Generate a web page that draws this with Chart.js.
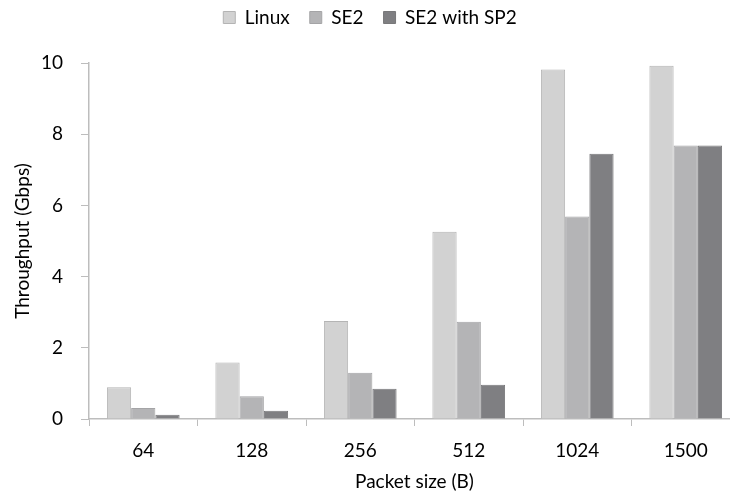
<!DOCTYPE html>
<html>
<head>
<meta charset="utf-8">
<script src="https://cdn.jsdelivr.net/npm/chart.js@4"></script>
<style>
  html, body { margin: 0; padding: 0; background: #fff; overflow: hidden; }
  #wrap { width: 750px; height: 493px; }
</style>
</head>
<body>
<div id="wrap"><canvas id="myChart"></canvas></div>
<script>
const packetSizes = ['64', '128', '256', '512', '1024', '1500'];
const linux = [0.89, 1.59, 2.75, 5.26, 9.82, 9.92];
const se2 = [0.31, 0.64, 1.30, 2.73, 5.69, 7.68];
const se2sp2 = [0.12, 0.23, 0.85, 0.96, 7.45, 7.68];
const yTicks = [0, 2, 4, 6, 8, 10];

const font = "Lato, 'Open Sans', sans-serif";
const textColor = '#000';

const barData = {
  labels: packetSizes,
  datasets: [
    {
      label: 'Linux',
      data: linux,
      backgroundColor: '#d2d2d2',
      borderColor: '#b4b4b4',
      borderWidth: 1
    },
    {
      label: 'SE2',
      data: se2,
      backgroundColor: '#b4b4b6',
      borderColor: '#a4a4a6',
      borderWidth: 1
    },
    {
      label: 'SE2 with SP2',
      data: se2sp2,
      backgroundColor: '#7f7f82',
      borderColor: '#78787a',
      borderWidth: 1
    }
  ]
};

// legend box gets a fixed height so the plot starts where the reference does
const legendHeight = {
  id: 'legendHeight',
  beforeInit(chart) {
    const fit = chart.legend.fit;
    chart.legend.fit = function () {
      fit.call(this);
      this.height = 75;
    };
  }
};

const barConfig = {
  type: 'bar',
  data: barData,
  plugins: [legendHeight],
  options: {
    responsive: false,
    animation: false,
    devicePixelRatio: 1,
    layout: { padding: { left: 0, right: 10, top: -12, bottom: 0 } },
    datasets: {
      bar: { categoryPercentage: 0.67, barPercentage: 1 }
    },
    plugins: {
      legend: {
        position: 'top',
        labels: {
          color: textColor,
          font: { family: font, size: 19 },
          boxWidth: 12,
          boxHeight: 12,
          padding: 20
        }
      },
      tooltip: { enabled: false }
    },
    scales: {
      x: {
        grid: {
          display: true,
          offset: true,
          drawOnChartArea: false,
          drawTicks: true,
          tickLength: 7,
          color: '#bdbdbd'
        },
        border: { color: '#bdbdbd', width: 1.5 },
        ticks: { color: textColor, font: { family: font, size: 19 }, padding: 13 },
        title: {
          display: true,
          text: 'Packet size (B)',
          color: textColor,
          font: { family: font, size: 19 },
          padding: { top: 4, bottom: 0 }
        },
        afterFit: (scale) => { scale.height = 74; }
      },
      y: {
        min: 0,
        max: 10,
        afterBuildTicks: (scale) => { scale.ticks = yTicks.map(v => ({ value: v })); },
        grid: {
          display: true,
          drawOnChartArea: false,
          drawTicks: true,
          tickLength: 8,
          color: '#bdbdbd'
        },
        border: { color: '#bdbdbd', width: 1.5 },
        ticks: { color: textColor, font: { family: font, size: 19 }, padding: 18 },
        title: {
          display: true,
          text: 'Throughput (Gbps)',
          color: textColor,
          font: { family: font, size: 19 },
          padding: { top: 11, bottom: 4 }
        },
        afterFit: (scale) => { scale.width = 89; }
      }
    }
  }
};

const canvas = document.getElementById('myChart');
canvas.width = 750;
canvas.height = 493;
const myBarChart = new Chart(canvas, barConfig);
</script>
</body>
</html>
